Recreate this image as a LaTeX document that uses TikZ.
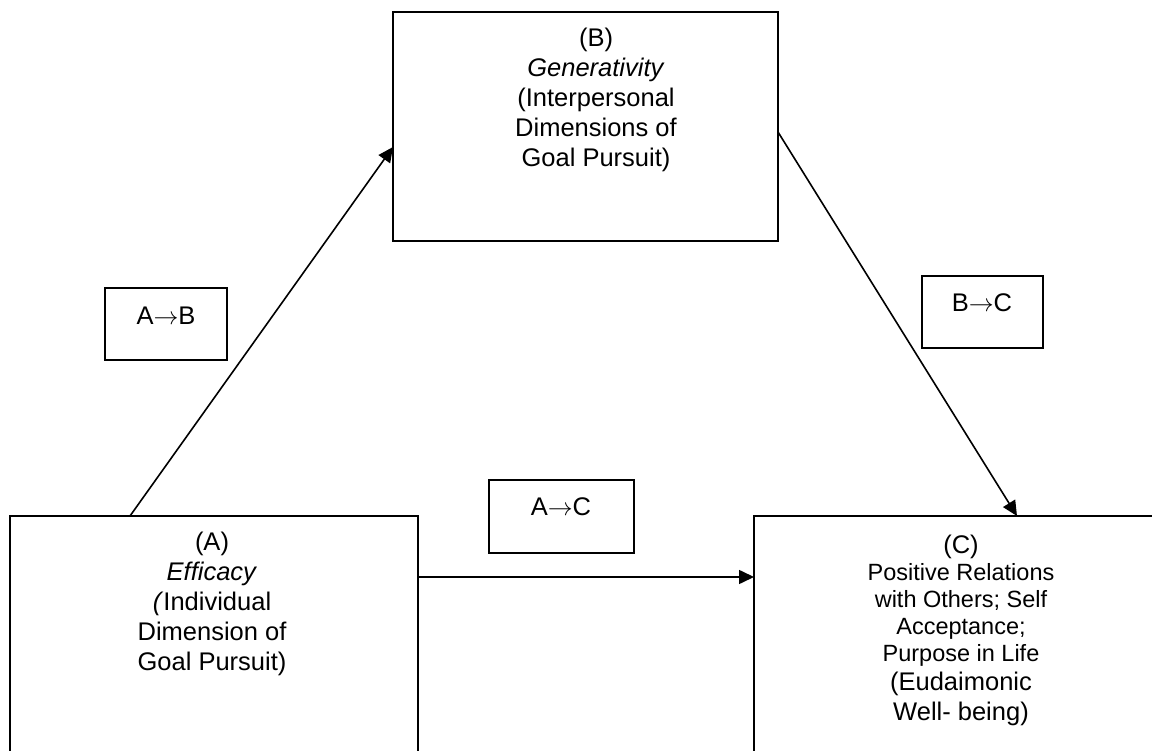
\documentclass[tikz,border=0pt]{standalone}
\usepackage{fontspec}
\setmainfont{Liberation Sans}
\usetikzlibrary{arrows.meta}
\begin{document}
\begin{tikzpicture}[x=1pt,y=-1pt,
  box/.style={draw, line width=2pt, rectangle, inner sep=0pt, outer sep=0pt, anchor=north west},
  lbl/.style={draw, line width=1.8pt, rectangle, inner sep=0pt, outer sep=0pt, anchor=north west},
  txt/.style={align=center, anchor=base, inner sep=0pt, font=\fontsize{25.5}{30}\selectfont},
  smalltxt/.style={align=center, anchor=base, inner sep=0pt, font=\fontsize{23.5}{27}\selectfont},
  conn/.style={line width=1.6pt, -{Triangle[length=15pt,width=14pt]}}]
\clip (0,0) rectangle (1152,751);
\fill[white] (0,0) rectangle (1152,751);
% main boxes
\node[box, minimum width=408pt, minimum height=250pt] (A) at (10,516) {};
\node[box, minimum width=385pt, minimum height=229pt] (B) at (393,12) {};
\node[box, minimum width=420pt, minimum height=250pt] (C) at (754,516) {};
% label boxes
\node[lbl, minimum width=122pt, minimum height=72pt] (AB) at (105,288) {};
\node[lbl, minimum width=145pt, minimum height=73pt] (AC) at (489,480) {};
\node[lbl, minimum width=121pt, minimum height=72pt] (BC) at (922,276) {};
% texts (anchor=base is the last line's baseline)
\node[txt] (tB) at (596,167) {(B)\\\textit{Generativity}\\(Interpersonal\\Dimensions of\\Goal Pursuit)};
\node[txt] (tA) at (212,670) {(A)\\\textit{Efficacy}\\\textit{(}Individual\\Dimension of\\Goal Pursuit)};
\node[txt] (tC1) at (961,553) {(C)};
\node[smalltxt] (tC2) at (961,661) {Positive Relations\\with Others; Self\\Acceptance;\\Purpose in Life};
\node[txt] (tC3) at (961,720) {(Eudaimonic\\Well- being)};
\node[txt] (tAB) at (166,325) {A$\rightarrow$B};
\node[txt] (tAC) at (561,515) {A$\rightarrow$C};
\node[txt] (tBC) at (982,312) {B$\rightarrow$C};
% connectors
\draw[conn] ([xshift=120pt]A.north west) -- ([yshift=-135pt]B.north west);
\draw[conn] ([yshift=-120pt]B.north east) -- ([xshift=263pt]C.north west);
\draw[conn] ([yshift=-61pt]A.north east) -- ([yshift=-61pt]C.north west);
\end{tikzpicture}
\end{document}
